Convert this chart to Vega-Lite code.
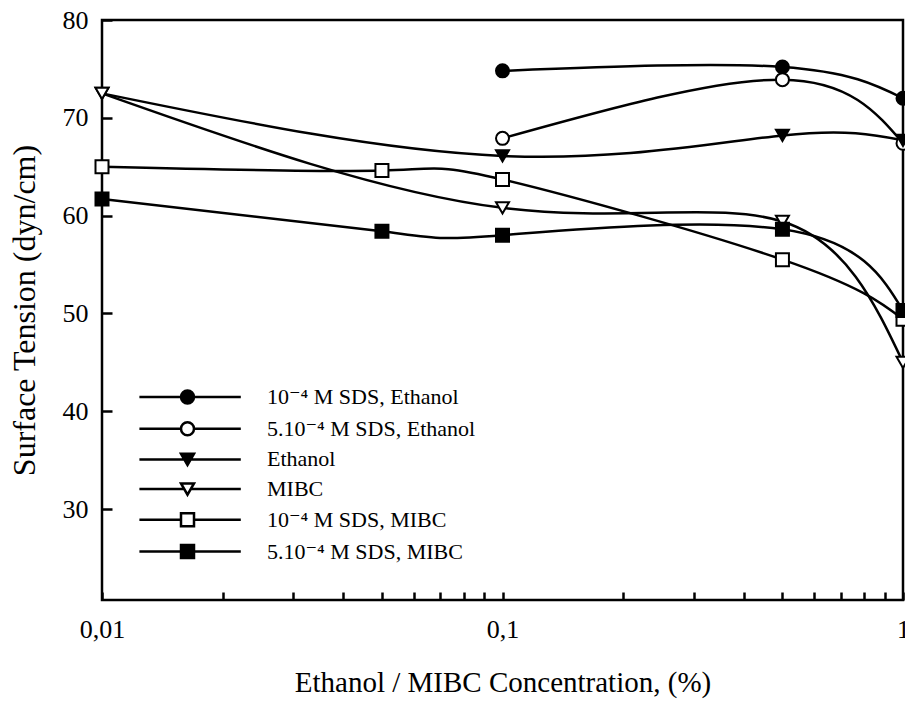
{
  "$schema": "https://vega.github.io/schema/vega-lite/v6.json",
  "width": 801,
  "height": 580,
  "autosize": {"type": "none"},
  "padding": {"left": 102, "top": 20, "right": 2, "bottom": 102},
  "background": "white",
  "config": {
    "font": "Liberation Serif, Times New Roman, DejaVu Serif, serif",
    "view": {"stroke": "black", "strokeWidth": 2.5},
    "axis": {
      "labelFont": "Liberation Serif, Times New Roman, DejaVu Serif, serif",
      "titleFont": "Liberation Serif, Times New Roman, DejaVu Serif, serif",
      "labelColor": "black",
      "titleColor": "black",
      "titleFontWeight": "normal",
      "domain": false,
      "tickColor": "black",
      "tickWidth": 2.5,
      "grid": false
    }
  },
  "data": {
    "values": [
      {"s": "10⁻⁴ M SDS, Ethanol", "x": 0.1, "y": 74.8},
      {"s": "10⁻⁴ M SDS, Ethanol", "x": 0.5, "y": 75.2},
      {"s": "10⁻⁴ M SDS, Ethanol", "x": 1, "y": 72.0},
      {"s": "5.10⁻⁴ M SDS, Ethanol", "x": 0.1, "y": 67.9},
      {"s": "5.10⁻⁴ M SDS, Ethanol", "x": 0.5, "y": 73.9},
      {"s": "5.10⁻⁴ M SDS, Ethanol", "x": 1, "y": 67.4},
      {"s": "Ethanol", "x": 0.01, "y": 72.5},
      {"s": "Ethanol", "x": 0.1, "y": 66.1},
      {"s": "Ethanol", "x": 0.5, "y": 68.2},
      {"s": "Ethanol", "x": 1, "y": 67.7},
      {"s": "MIBC", "x": 0.01, "y": 72.5},
      {"s": "MIBC", "x": 0.1, "y": 60.8},
      {"s": "MIBC", "x": 0.5, "y": 59.4},
      {"s": "MIBC", "x": 1, "y": 45.0},
      {"s": "10⁻⁴ M SDS, MIBC", "x": 0.01, "y": 65.0},
      {"s": "10⁻⁴ M SDS, MIBC", "x": 0.05, "y": 64.6},
      {"s": "10⁻⁴ M SDS, MIBC", "x": 0.1, "y": 63.7},
      {"s": "10⁻⁴ M SDS, MIBC", "x": 0.5, "y": 55.5},
      {"s": "10⁻⁴ M SDS, MIBC", "x": 1, "y": 49.4},
      {"s": "5.10⁻⁴ M SDS, MIBC", "x": 0.01, "y": 61.7},
      {"s": "5.10⁻⁴ M SDS, MIBC", "x": 0.05, "y": 58.4},
      {"s": "5.10⁻⁴ M SDS, MIBC", "x": 0.1, "y": 58.0},
      {"s": "5.10⁻⁴ M SDS, MIBC", "x": 0.5, "y": 58.6},
      {"s": "5.10⁻⁴ M SDS, MIBC", "x": 1, "y": 50.3}
    ]
  },
  "encoding": {
    "x": {
      "field": "x",
      "type": "quantitative",
      "scale": {"type": "log", "domain": [0.01, 1], "nice": false},
      "axis": {
        "title": "Ethanol / MIBC Concentration, (%)",
        "titleFontSize": 29,
        "titlePadding": 26,
        "labelFontSize": 26,
        "values": [0.01, 0.02, 0.03, 0.04, 0.05, 0.06, 0.07, 0.08, 0.09, 0.1, 0.2, 0.3, 0.4, 0.5, 0.6, 0.7, 0.8, 0.9, 1],
        "labelExpr": "datum.value == 0.01 ? '0,01' : datum.value == 0.1 ? '0,1' : datum.value == 1 ? '1' : ''",
        "labelOverlap": false,
        "labelFlush": false,
        "offset": -8,
        "tickSize": 8,
        "labelPadding": 16
      }
    },
    "y": {
      "field": "y",
      "type": "quantitative",
      "scale": {"domain": [20.7, 80], "nice": false, "zero": false},
      "axis": {
        "title": "Surface Tension (dyn/cm)",
        "titleFontSize": 32,
        "titlePadding": 21,
        "labelFontSize": 26,
        "values": [30, 40, 50, 60, 70, 80],
        "offset": -10,
        "tickSize": 10,
        "labelPadding": 14
      }
    }
  },
  "layer": [
    {
      "mark": {"type": "line", "interpolate": "natural", "color": "black", "strokeWidth": 2.5},
      "encoding": {"detail": {"field": "s"}}
    },
    {
      "mark": {"type": "point", "filled": true, "size": 169, "stroke": "black", "strokeWidth": 2, "opacity": 1},
      "encoding": {
        "shape": {
          "field": "s",
          "scale": {
            "domain": ["10⁻⁴ M SDS, Ethanol", "5.10⁻⁴ M SDS, Ethanol", "Ethanol", "MIBC", "10⁻⁴ M SDS, MIBC", "5.10⁻⁴ M SDS, MIBC"],
            "range": ["circle", "circle", "triangle-down", "triangle-down", "square", "square"]
          },
          "legend": null
        },
        "fill": {
          "field": "s",
          "scale": {
            "domain": ["10⁻⁴ M SDS, Ethanol", "5.10⁻⁴ M SDS, Ethanol", "Ethanol", "MIBC", "10⁻⁴ M SDS, MIBC", "5.10⁻⁴ M SDS, MIBC"],
            "range": ["black", "white", "black", "white", "white", "black"]
          },
          "legend": null
        }
      }
    },
    {
      "mark": {"type": "point", "filled": true, "size": 169, "stroke": "black", "strokeWidth": 2.5, "opacity": 0},
      "encoding": {
        "shape": {
          "field": "s",
          "scale": {
            "domain": ["10⁻⁴ M SDS, Ethanol", "5.10⁻⁴ M SDS, Ethanol", "Ethanol", "MIBC", "10⁻⁴ M SDS, MIBC", "5.10⁻⁴ M SDS, MIBC"],
            "range": [
              "M-7.4,0L-1,0M1,0L8.2,0M-1,0A1,1,0,1,1,1,0A1,1,0,1,1,-1,0Z",
              "M-7.4,0L-1,0M1,0L8.2,0M-1,0A1,1,0,1,1,1,0A1,1,0,1,1,-1,0Z",
              "M-7.4,0L-0.5,0M0.5,0L8.2,0M-1,-0.866L1,-0.866L0,0.866Z",
              "M-7.4,0L-0.5,0M0.5,0L8.2,0M-1,-0.866L1,-0.866L0,0.866Z",
              "M-7.4,0L-1,0M1,0L8.2,0M-1,-1L1,-1L1,1L-1,1Z",
              "M-7.4,0L-1,0M1,0L8.2,0M-1,-1L1,-1L1,1L-1,1Z"
            ]
          },
          "legend": {
            "title": null,
            "orient": "none",
            "legendX": 74.5,
            "legendY": 366,
            "padding": 0,
            "labelFont": "Liberation Serif, Times New Roman, DejaVu Serif, serif",
            "labelFontSize": 22,
            "labelColor": "black",
            "labelLimit": 0,
            "labelOffset": 68.5,
            "rowPadding": 7.7,
            "symbolSize": 169,
            "symbolStrokeColor": "black",
            "symbolStrokeWidth": 2.5,
            "encode": {"symbols": {"update": {"opacity": {"value": 1}, "size": {"value": 169}}}}
          }
        },
        "fill": {
          "field": "s",
          "scale": {
            "domain": ["10⁻⁴ M SDS, Ethanol", "5.10⁻⁴ M SDS, Ethanol", "Ethanol", "MIBC", "10⁻⁴ M SDS, MIBC", "5.10⁻⁴ M SDS, MIBC"],
            "range": ["black", "white", "black", "white", "white", "black"]
          },
          "legend": {
            "title": null,
            "orient": "none",
            "legendX": 74.5,
            "legendY": 366,
            "padding": 0,
            "labelFont": "Liberation Serif, Times New Roman, DejaVu Serif, serif",
            "labelFontSize": 22,
            "labelColor": "black",
            "labelLimit": 0,
            "labelOffset": 68.5,
            "rowPadding": 7.7,
            "symbolSize": 169,
            "symbolStrokeColor": "black",
            "symbolStrokeWidth": 2.5,
            "encode": {"symbols": {"update": {"opacity": {"value": 1}, "size": {"value": 169}}}}
          }
        }
      }
    }
  ],
  "resolve": {"scale": {"shape": "independent", "fill": "independent"}}
}
